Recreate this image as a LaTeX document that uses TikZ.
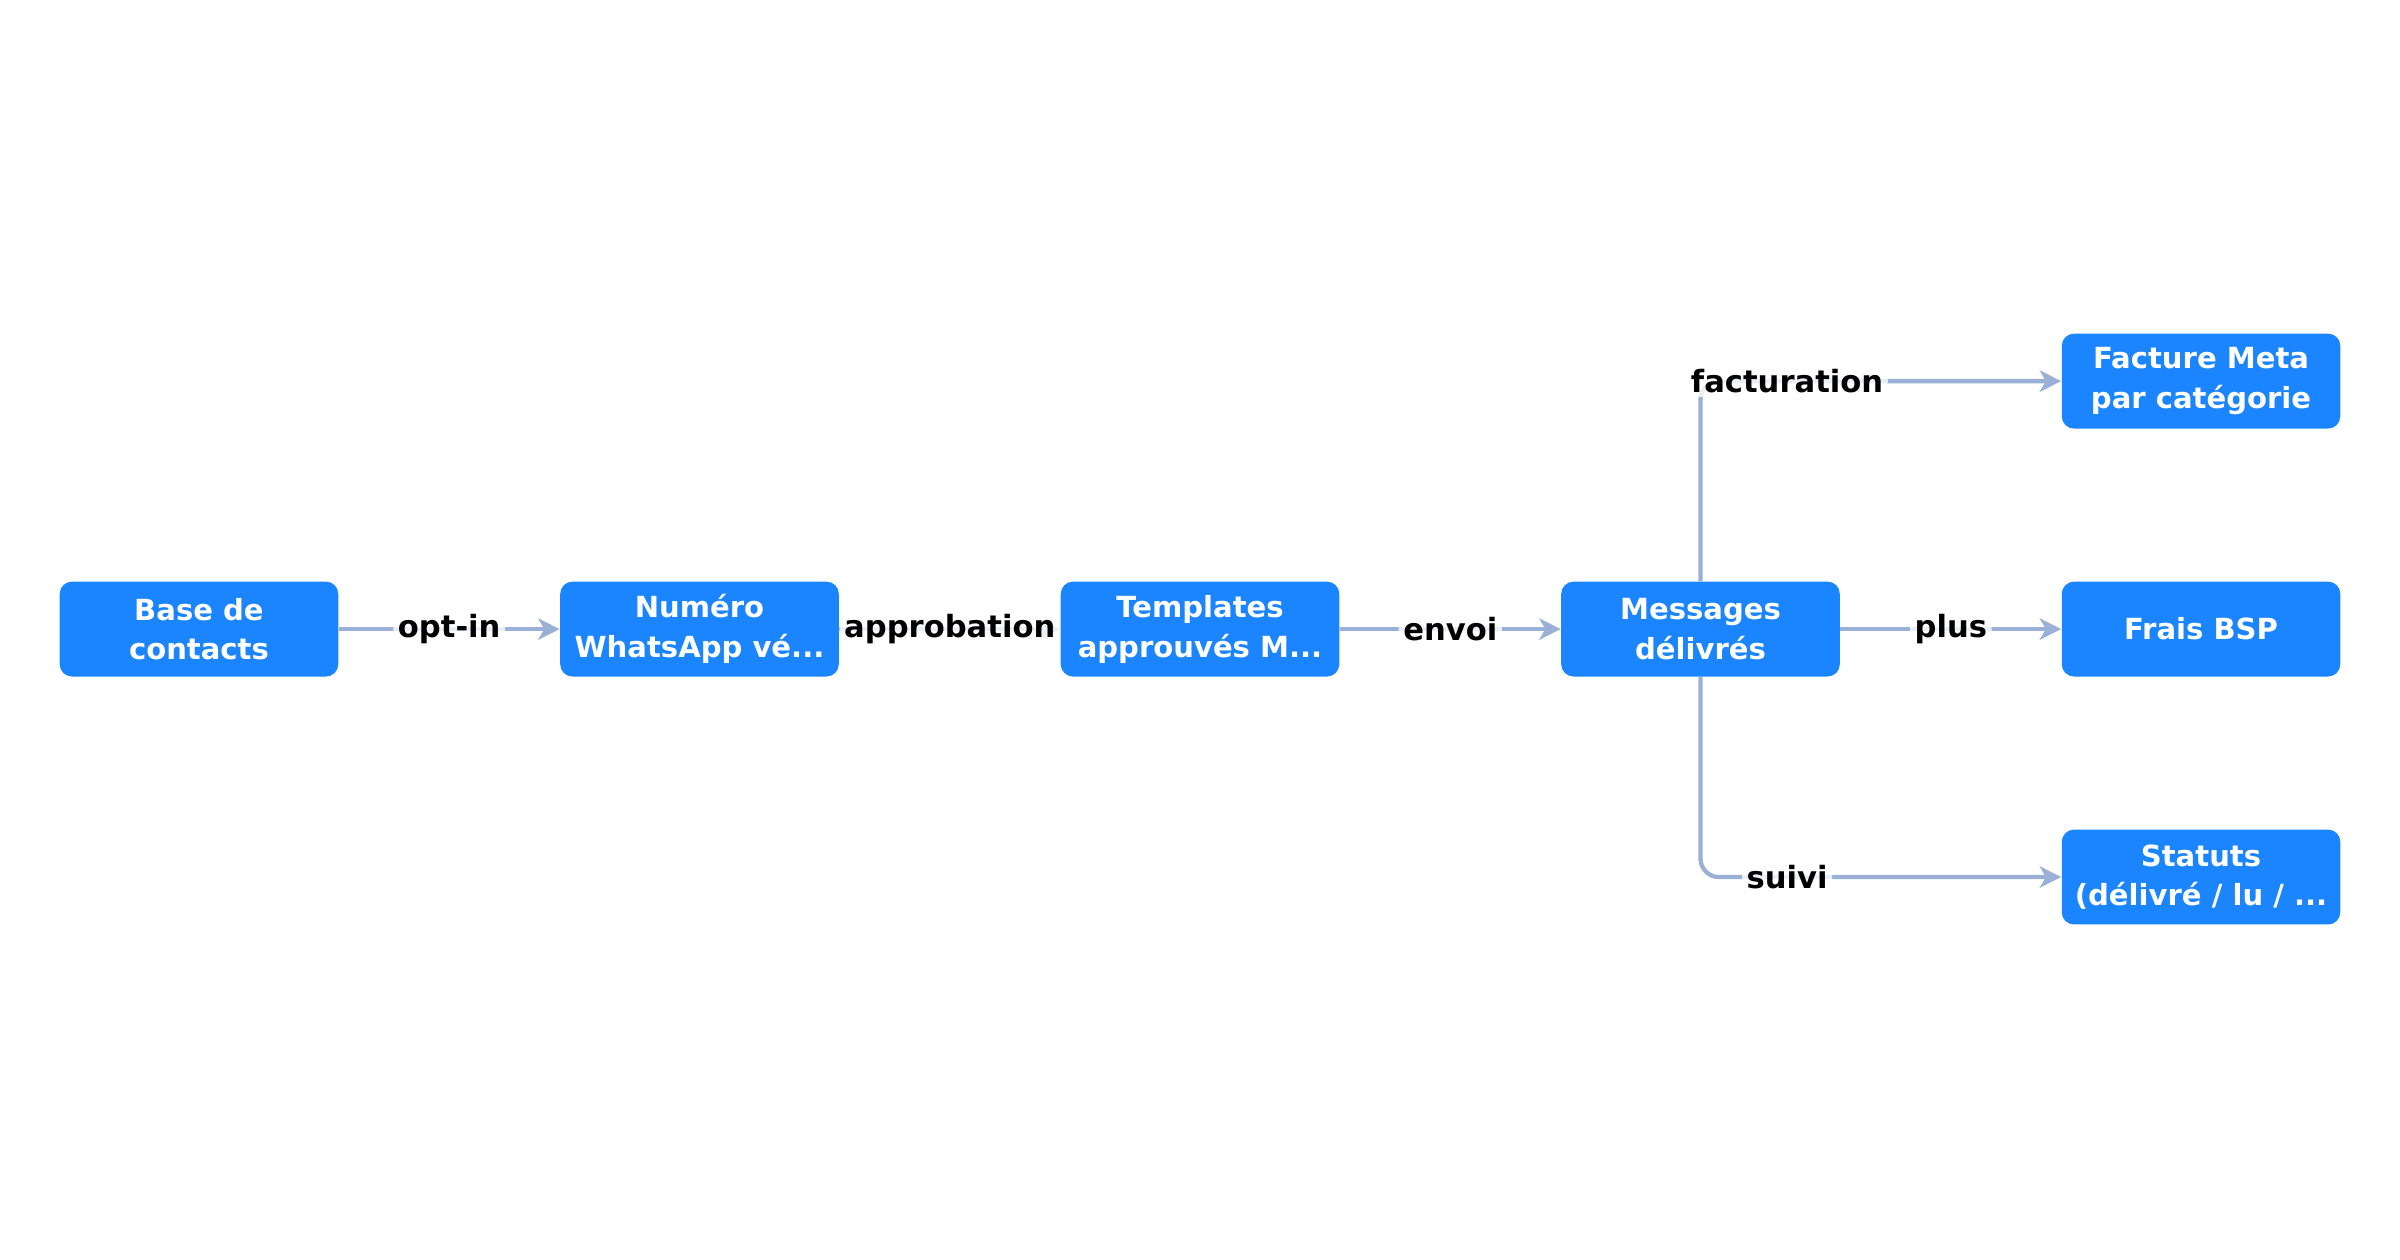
\documentclass[tikz,border=0pt]{standalone}
\usepackage{fontspec}
\setmainfont{DejaVu Sans}
\usetikzlibrary{arrows.meta}
\definecolor{nb}{HTML}{1A85FF}
\definecolor{ed}{HTML}{9AB0D6}
\begin{document}
\begin{tikzpicture}[x=0.5pt,y=-0.5pt,
  box/.style={fill=nb,rounded corners=4pt,minimum width=91pt,minimum height=31pt,text=white,font=\fontsize{9.5}{13}\selectfont\bfseries,align=center,inner sep=1pt},
  con/.style={draw=ed,line width=1.4pt,-{Stealth[length=7pt,width=7pt,inset=2pt]},rounded corners=6pt},
  lab/.style={fill=white,fill opacity=0.8,text opacity=1,font=\fontsize{10}{12}\selectfont\bfseries,inner sep=1.5pt}]
\useasboundingbox (0,0) rectangle (1568,823);
\node[box] (a) at (130,411) {Base de\\contacts};
\node[box] (b) at (457,411) {Numéro\\WhatsApp vé...};
\node[box] (c) at (784,411) {Templates\\approuvés M...};
\node[box] (d) at (1111,411) {Messages\\délivrés};
\node[box] (e) at (1438,249) {Facture Meta\\par catégorie};
\node[box] (f) at (1438,411) {Frais BSP};
\node[box] (g) at (1438,573) {Statuts\\(délivré / lu / ...};
\draw[con] (a) -- node[lab]{opt-in} (b);
\draw[con] (b) -- node[lab]{approbation} (c);
\draw[con] (c) -- node[lab]{envoi} (d);
\draw[con] (d) -- node[lab]{plus} (f);
\draw[con] (d.north) |- (e.west) node[lab,pos=0.62]{facturation};
\draw[con] (d.south) |- (g.west) node[lab,pos=0.62]{suivi};
\end{tikzpicture}
\end{document}
